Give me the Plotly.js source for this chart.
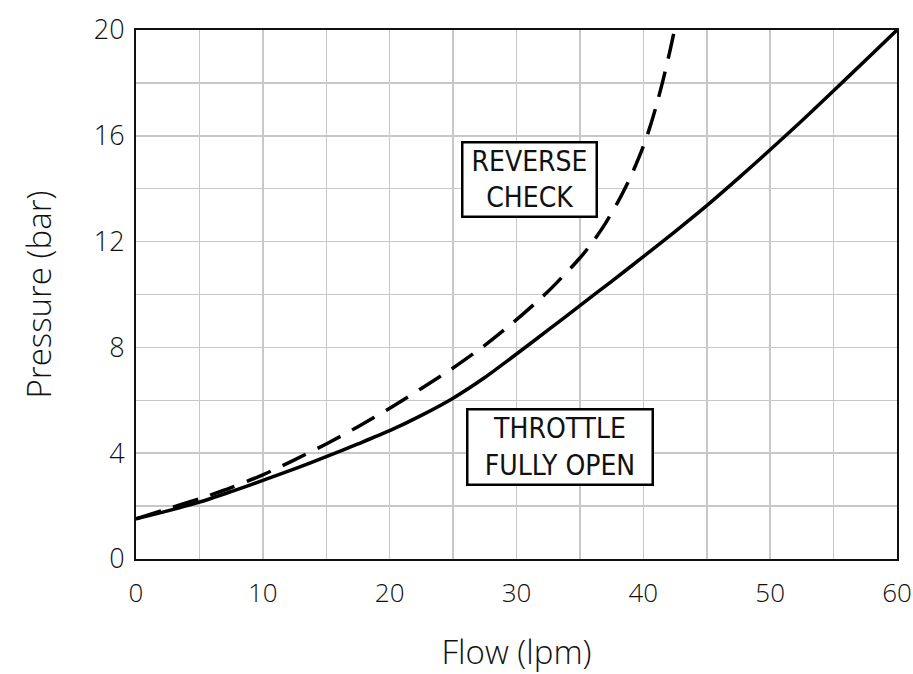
<!DOCTYPE html>
<html>
<head>
<meta charset="utf-8">
<script src="https://cdn.plot.ly/plotly-3.0.1.min.js"></script>
<style>html,body{margin:0;padding:0;background:#fff;}#chart{width:913px;height:674px;}</style>
</head>
<body>
<div id="chart"></div>
<script>
// Throttle fully open (solid)
const throttleFlow = [0, 2.5, 5, 7.5, 10, 12.5, 15, 17.5, 20, 22.5, 25, 27.5, 30, 32.5, 35, 37.5, 40, 42.5, 45, 47.5, 50, 52.5, 55, 57.5, 60];
const throttlePressure = [1.52, 1.82, 2.15, 2.55, 2.97, 3.41, 3.87, 4.35, 4.85, 5.43, 6.08, 6.86, 7.75, 8.66, 9.58, 10.5, 11.43, 12.38, 13.36, 14.4, 15.47, 16.57, 17.7, 18.85, 20];
// Reverse check (dashed)
const checkFlow = [0, 2.5, 5, 7.5, 10, 12.5, 15, 17.5, 20, 22.5, 25, 27.5, 30, 32.5, 35, 36, 37, 38, 39, 40, 40.5, 41, 41.5, 42, 42.5];
const checkPressure = [1.52, 1.9, 2.28, 2.7, 3.18, 3.75, 4.35, 5.0, 5.7, 6.45, 7.22, 8.08, 9.05, 10.12, 11.38, 11.98, 12.68, 13.5, 14.45, 15.6, 16.3, 17.1, 18.0, 19.0, 20.1];

const xTickVals = [0, 5, 10, 15, 20, 25, 30, 35, 40, 45, 50, 55, 60];
const xTickText = ['0', '', '10', '', '20', '', '30', '', '40', '', '50', '', '60'];
const yTickVals = [0, 2, 4, 6, 8, 10, 12, 14, 16, 18, 20];
const yTickText = ['0', '', '4', '', '8', '', '12', '', '16', '', '20'];

const labelReverse = 'REVERSE<br>CHECK';
const labelThrottle = 'THROTTLE<br>FULLY OPEN';

const baseFont = '"Open Sans", Lato, sans-serif';
const noteFont = '"Liberation Sans Narrow", "DejaVu Sans Condensed", sans-serif';

const traces = [
  {x: throttleFlow, y: throttlePressure, mode: 'lines', type: 'scatter',
   line: {color: '#000', width: 3.5, shape: 'spline', smoothing: 0.7}, hoverinfo: 'skip'},
  {x: checkFlow, y: checkPressure, mode: 'lines', type: 'scatter',
   line: {color: '#000', width: 3.5, shape: 'spline', smoothing: 0.7, dash: '26px,13px'}, hoverinfo: 'skip'}
];

const layout = {
  width: 913, height: 674,
  margin: {l: 136, r: 16, t: 30, b: 115},
  paper_bgcolor: '#fff', plot_bgcolor: '#fff',
  showlegend: false,
  font: {family: baseFont, color: '#111'},
  xaxis: {
    range: [0, 60], tickvals: xTickVals, ticktext: xTickText,
    showgrid: true, gridcolor: '#c8c8c8', gridwidth: 1.5,
    showline: true, linecolor: '#111', linewidth: 2, mirror: true,
    zeroline: false, ticks: '', ticklabelstandoff: 10,
    tickfont: {size: 26, family: baseFont, color: '#111', weight: 300},
    title: {text: 'Flow (lpm)', font: {size: 33, family: baseFont, color: '#111', weight: 300}, standoff: 36}
  },
  yaxis: {
    range: [0, 20], tickvals: yTickVals, ticktext: yTickText,
    showgrid: true, gridcolor: '#c8c8c8', gridwidth: 1.5,
    showline: true, linecolor: '#111', linewidth: 2, mirror: true,
    zeroline: false, ticks: '', ticklabelstandoff: 4,
    tickfont: {size: 27, family: baseFont, color: '#111', weight: 300},
    title: {text: 'Pressure (bar)', font: {size: 33, family: baseFont, color: '#111', weight: 300}, standoff: 32}
  },
  annotations: [
    {x: 31.05, y: 14.33, xref: 'x', yref: 'y', text: labelReverse, showarrow: false,
     font: {size: 28, family: noteFont, color: '#111'}, bgcolor: '#fff',
     bordercolor: '#000', borderwidth: 2.5, borderpad: 3, width: 126, height: 66, align: 'center'},
    {x: 33.45, y: 4.25, xref: 'x', yref: 'y', text: labelThrottle, showarrow: false,
     font: {size: 28, family: noteFont, color: '#111'}, bgcolor: '#fff',
     bordercolor: '#000', borderwidth: 2.5, borderpad: 3, width: 177, height: 67, align: 'center'}
  ]
};

Plotly.newPlot('chart', traces, layout, {displayModeBar: false, staticPlot: true});
</script>
</body>
</html>
